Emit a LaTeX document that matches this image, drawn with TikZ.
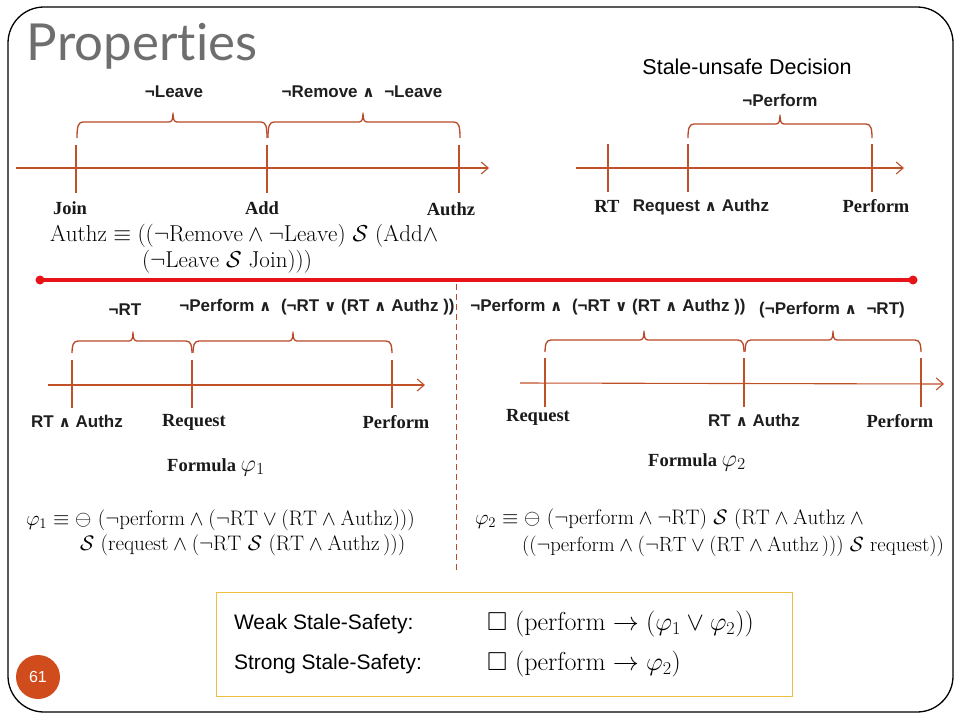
\RequirePackage{fix-cm}
\documentclass[tikz,border=0pt]{standalone}
\usepackage{amsmath,amssymb}
\usepackage{fontspec}
\usetikzlibrary{arrows.meta}
\newfontfamily\lsans{Liberation Sans}
\newfontfamily\lserif{Liberation Serif}
\newfontfamily\titlefont[Ligatures={NoCommon,NoDiscretionary}]{Lato}
\newfontfamily\djv[Scale=0.9]{DejaVu Sans}
\definecolor{axis}{RGB}{192,80,40}
\definecolor{brc}{RGB}{185,72,40}
\definecolor{redline}{RGB}{230,20,25}
\definecolor{gold}{RGB}{240,192,64}
\definecolor{badge}{RGB}{209,76,28}
\definecolor{ttl}{RGB}{110,110,110}
\newcommand\wA{{\djv\bfseries ∧}}
\newcommand\wO{{\djv\bfseries ∨}}
% brace: x1, xmid, x2, y of flat line, drop of the ends
\newcommand\tbrace[5]{\draw[bracestyle] (#1,#4+#5) .. controls (#1,#4+5) and (#1+1,#4) .. (#1+6,#4) -- (#2-4,#4) .. controls (#2-1,#4) and (#2,#4-3) .. (#2,#4-9) .. controls (#2,#4-3) and (#2+1,#4) .. (#2+4,#4) -- (#3-6,#4) .. controls (#3-1,#4) and (#3,#4+5) .. (#3,#4+#5);}
\begin{document}
\begin{tikzpicture}[x=1pt,y=-1pt,
 every node/.style={inner sep=0pt, outer sep=0pt},
 sbl/.style={font=\lsans\bfseries\fontsize{17}{20}\selectfont, text=black!88},
 tbl/.style={font=\lserif\bfseries\fontsize{18.5}{21}\selectfont, text=black!90},
 mth/.style={font=\fontsize{23}{27}\selectfont, anchor=west},
 fml/.style={font=\fontsize{21}{25}\selectfont, anchor=west},
 axisline/.style={draw=axis, line width=1.1pt, -{Straight Barb[length=7pt,width=12pt,line width=1.1pt]}},
 tickline/.style={draw=axis, line width=1.1pt},
 bracestyle/.style={draw=brc, line width=1.3pt, line join=round}]
\useasboundingbox (0,0) rectangle (960,720);
\draw[line width=1.3pt, rounded corners=36pt] (8,7) rectangle (953,712);
\node[anchor=base west, font=\titlefont\fontsize{51}{60}\selectfont, text=ttl] (title) at (27,60) {Properties};

% ---- panel A
\coordinate (aS) at (16,168); \coordinate (aE) at (489,168);
\draw[axisline] (aS) -- (aE);
\foreach \x in {76,267,459} {\draw[tickline] (\x,145) -- (\x,193);}
\tbrace{77}{173}{267}{122}{16}
\tbrace{268}{363}{460}{122}{16}
\node[sbl] (lA1) at (174,92) {¬Leave};
\node[sbl] (lA2) at (362,92) {¬Remove \wA\ \ ¬Leave};
\node[tbl] (join) at (70,208) {Join};
\node[tbl] (add) at (262,208) {Add};
\node[tbl] (authz) at (451,209) {Authz};
\node[mth] (fA1) at (50,236) {$\mathrm{Authz}\equiv((\neg\mathrm{Remove}\wedge\neg\mathrm{Leave})\ \mathcal{S}\ (\mathrm{Add}\wedge$};
\node[mth] (fA2) at (142,262) {$(\neg\mathrm{Leave}\ \mathcal{S}\ \mathrm{Join})))$};

% ---- separators
\coordinate (r1) at (40,280); \coordinate (r2) at (913,280);
\draw[redline, line width=3.5pt] (r1) -- (r2);
\fill[redline] (r1) circle (4.5) (r2) circle (4.5);
\coordinate (d1) at (456,284); \coordinate (d2) at (456,570);
\draw[brc, line width=0.9pt, dash pattern=on 6pt off 4pt] (d1) -- (d2);

% ---- panel B
\node[font=\lsans\fontsize{21.5}{25}\selectfont] (sud) at (747,67) {Stale-unsafe Decision};
\coordinate (bS) at (576,168); \coordinate (bE) at (904,168);
\draw[axisline] (bS) -- (bE);
\foreach \x in {608,688,872} {\draw[tickline] (\x,144) -- (\x,192);}
\tbrace{688}{780}{872}{124}{14}
\node[sbl] (lB1) at (780,100) {¬Perform};
\node[tbl] (rtB) at (607,206) {RT};
\node[sbl] (reqB) at (701,207) {Request \wA\ Authz};
\node[tbl] (perfB) at (876,206) {Perform};

% ---- panel C
\coordinate (cS) at (48,385); \coordinate (cE) at (425,385);
\draw[axisline] (cS) -- (cE);
\foreach \x in {72,192,392} {\draw[tickline] (\x,360) -- (\x,408);}
\tbrace{72}{133}{192}{341}{12}
\tbrace{193}{293}{392}{341}{12}
\node[sbl] (lC1) at (125,310) {¬RT};
\node[sbl] (lC2) at (317,307) {¬Perform \wA\ \ (¬RT \wO\ (RT \wA\ Authz ))};
\node[sbl] (rtC) at (77,421) {RT \wA\ Authz};
\node[tbl] (reqC) at (194,422) {Request};
\node[tbl] (perfC) at (396,422) {Perform};
\node[tbl] (formC) at (216,467) {Formula {\fontsize{24}{28}\selectfont$\varphi_1$}};

% ---- panel D
\coordinate (dS) at (520,383); \coordinate (dE) at (944,384);
\draw[axisline] (dS) -- (dE);
\foreach \x in {545,744,921} {\draw[tickline] (\x,358) -- (\x,407);}
\tbrace{545}{644}{744}{340}{12}
\tbrace{745}{833}{921}{340}{12}
\node[sbl] (lD1) at (608,307) {¬Perform \wA\ \ (¬RT \wO\ (RT \wA\ Authz ))};
\node[sbl] (lD2) at (832,310) {(¬Perform \wA\ \ ¬RT)};
\node[tbl] (reqD) at (538,417) {Request};
\node[sbl] (rtD) at (754,420) {RT \wA\ Authz};
\node[tbl] (perfD) at (900,421) {Perform};
\node[tbl] (formD) at (697,462) {Formula {\fontsize{24}{28}\selectfont$\varphi_2$}};

% ---- formulas
\node[fml] (p1a) at (26,520) {$\varphi_1\equiv\ominus\ (\neg\mathrm{perform}\wedge(\neg\mathrm{RT}\vee(\mathrm{RT}\wedge\mathrm{Authz})))$};
\node[fml] (p1b) at (80,545) {$\mathcal{S}\ (\mathrm{request}\wedge(\neg\mathrm{RT}\ \mathcal{S}\ (\mathrm{RT}\wedge\mathrm{Authz}\,)))$};
\node[fml] (p2a) at (475,519) {$\varphi_2\equiv\ominus\ (\neg\mathrm{perform}\wedge\neg\mathrm{RT})\ \mathcal{S}\ (\mathrm{RT}\wedge\mathrm{Authz}\wedge{}$};
\node[fml, font=\fontsize{20.6}{25}\selectfont] (p2b) at (522,546) {$((\neg\mathrm{perform}\wedge(\neg\mathrm{RT}\vee(\mathrm{RT}\wedge\mathrm{Authz}\,)))\ \mathcal{S}\ \mathrm{request}))$};

% ---- bottom box
\node[draw=gold, line width=1pt, minimum width=576pt, minimum height=104pt, anchor=north west] (box) at (216,592) {};
\node[anchor=west, font=\lsans\fontsize{21}{24}\selectfont] (weak) at (234,624) {Weak Stale-Safety:};
\node[anchor=west, font=\fontsize{26}{30}\selectfont] (wf) at (487,624) {$\square\ (\mathrm{perform}\rightarrow(\varphi_1\vee\varphi_2))$};
\node[anchor=west, font=\lsans\fontsize{21}{24}\selectfont] (strong) at (234,664) {Strong Stale-Safety:};
\node[anchor=west, font=\fontsize{26}{30}\selectfont] (sf) at (487,664) {$\square\ (\mathrm{perform}\rightarrow\varphi_2)$};

\node[circle, fill=badge, minimum size=44pt, text=white, font=\lsans\fontsize{16}{18}\selectfont] (badge) at (38,677) {61};
\end{tikzpicture}
\end{document}
